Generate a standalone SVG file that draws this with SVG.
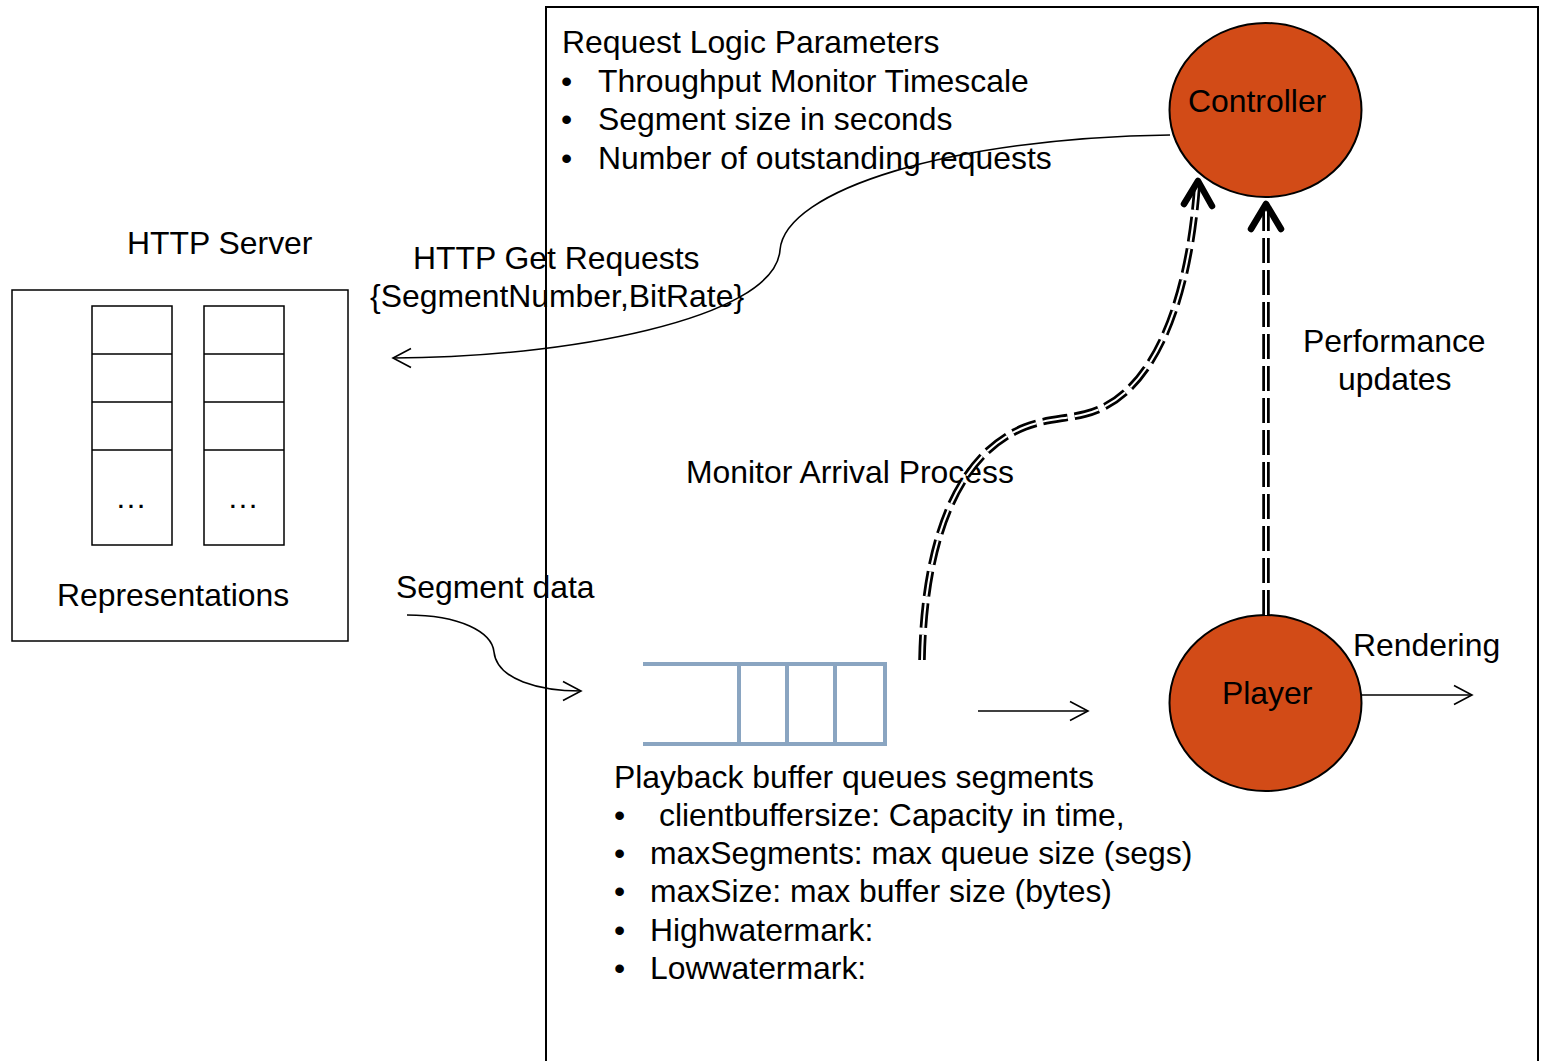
<svg xmlns="http://www.w3.org/2000/svg" width="1543" height="1061" viewBox="0 0 1543 1061">
  <style>
    text { font-family: "Liberation Sans", Arial, sans-serif; font-size: 31.9px; fill: #000; }
    .frame { fill: none; stroke: #000; stroke-width: 2; }
    .thin { fill: none; stroke: #000; stroke-width: 1.5; }
    .node { fill: #d24b17; stroke: #000; stroke-width: 2; }
    .buf { fill: none; stroke: #8aa5c1; stroke-width: 4; }
    .conn { fill: none; stroke: #000; stroke-width: 1.6; }
    .dbl-outer { fill: none; stroke: #000; stroke-width: 7.5; stroke-dasharray: 25 7; }
    .dbl-inner { fill: none; stroke: #fff; stroke-width: 2; stroke-dasharray: 25 7; }
    .chevron { fill: none; stroke: #000; stroke-width: 6.5; stroke-linecap: round; stroke-linejoin: round; }
  </style>
  <defs>
    <marker id="open-arrow" markerUnits="userSpaceOnUse" viewBox="-20 -12 22 24" refX="0" refY="0" markerWidth="22" markerHeight="24" orient="auto">
      <path d="M-18,-9.5 L0,0 L-18,9.5" fill="none" stroke="#000" stroke-width="1.6"/>
    </marker>
  </defs>

  <rect width="1543" height="1061" fill="#fff"/>

  <!-- client frame -->
  <g id="client">
    <rect class="frame" x="546" y="7" width="992" height="1080"/>
    <text x="562" y="53">Request Logic Parameters</text>
    <text x="561" y="91.5">•</text><text x="598" y="91.5">Throughput Monitor Timescale</text>
    <text x="561" y="130">•</text><text x="598" y="130">Segment size in seconds</text>
    <text x="561" y="169">•</text><text x="598" y="169">Number of outstanding requests</text>
  </g>

  <!-- HTTP server with representations -->
  <g id="http-server">
    <text x="127" y="254">HTTP Server</text>
    <rect class="thin" x="12" y="290" width="336" height="351"/>
    <rect class="thin" x="92" y="306" width="80" height="239"/>
    <path class="thin" d="M92,354 H172 M92,402 H172 M92,450 H172"/>
    <rect class="thin" x="204" y="306" width="80" height="239"/>
    <path class="thin" d="M204,354 H284 M204,402 H284 M204,450 H284"/>
    <text x="131" y="508" text-anchor="middle">…</text>
    <text x="243" y="508" text-anchor="middle">…</text>
    <text x="57" y="606">Representations</text>
  </g>

  <!-- playback buffer -->
  <g id="buffer">
    <path class="buf" d="M643,664 H885 V744 H643 M739,664 V744 M787,664 V744 M835,664 V744"/>
    <text x="614" y="788">Playback buffer queues segments</text>
    <text x="614" y="826">•</text><text x="659" y="826">clientbuffersize: Capacity in time,</text>
    <text x="614" y="864">•</text><text x="650" y="864">maxSegments: max queue size (segs)</text>
    <text x="614" y="902">•</text><text x="650" y="902">maxSize: max buffer size (bytes)</text>
    <text x="614" y="941">•</text><text x="650" y="941">Highwatermark:</text>
    <text x="614" y="979">•</text><text x="650" y="979">Lowwatermark:</text>
  </g>

  <g id="controller">
    <ellipse class="node" cx="1265.5" cy="110" rx="96" ry="87"/>
    <text x="1188" y="112">Controller</text>
  </g>

  <g id="player">
    <ellipse class="node" cx="1265.5" cy="703" rx="96" ry="88"/>
    <text x="1222" y="704">Player</text>
  </g>

  <!-- connectors -->
  <g id="connectors">
    <!-- requests to server -->
    <path class="conn" d="M1170,135 C950,138 785,190 780,250 C775,320 560,358 393,358" marker-end="url(#open-arrow)"/>
    <text x="413" y="269">HTTP Get Requests</text>
    <text x="370" y="307">{SegmentNumber,BitRate}</text>

    <!-- segment data into buffer -->
    <path class="conn" d="M407,615 C460,615 492,632 494,652 C497,680 540,691 581,691" marker-end="url(#open-arrow)"/>
    <text x="396" y="598">Segment data</text>

    <!-- buffer to player -->
    <path class="conn" d="M978,711 H1088" marker-end="url(#open-arrow)"/>

    <!-- rendering -->
    <path class="conn" d="M1362,695 H1472" marker-end="url(#open-arrow)"/>
    <text x="1353" y="656">Rendering</text>

    <!-- monitor arrival process (double dashed) -->
    <text x="686" y="483">Monitor Arrival Process</text>
    <path class="dbl-outer" d="M922,660 C924,545 955,455 1025,427 C1045,419 1065,419 1085,414 C1150,398 1188,310 1197,186"/>
    <path class="dbl-inner" d="M922,660 C924,545 955,455 1025,427 C1045,419 1065,419 1085,414 C1150,398 1188,310 1197,186"/>
    <polyline class="chevron" points="1184,204 1198,181 1212,206"/>

    <!-- performance updates (double dashed) -->
    <path class="dbl-outer" d="M1266,615 V206"/>
    <path class="dbl-inner" d="M1266,615 V206"/>
    <polyline class="chevron" points="1251,229 1266,204 1281,229"/>
    <text x="1303" y="352">Performance</text>
    <text x="1338" y="390">updates</text>
  </g>
</svg>
